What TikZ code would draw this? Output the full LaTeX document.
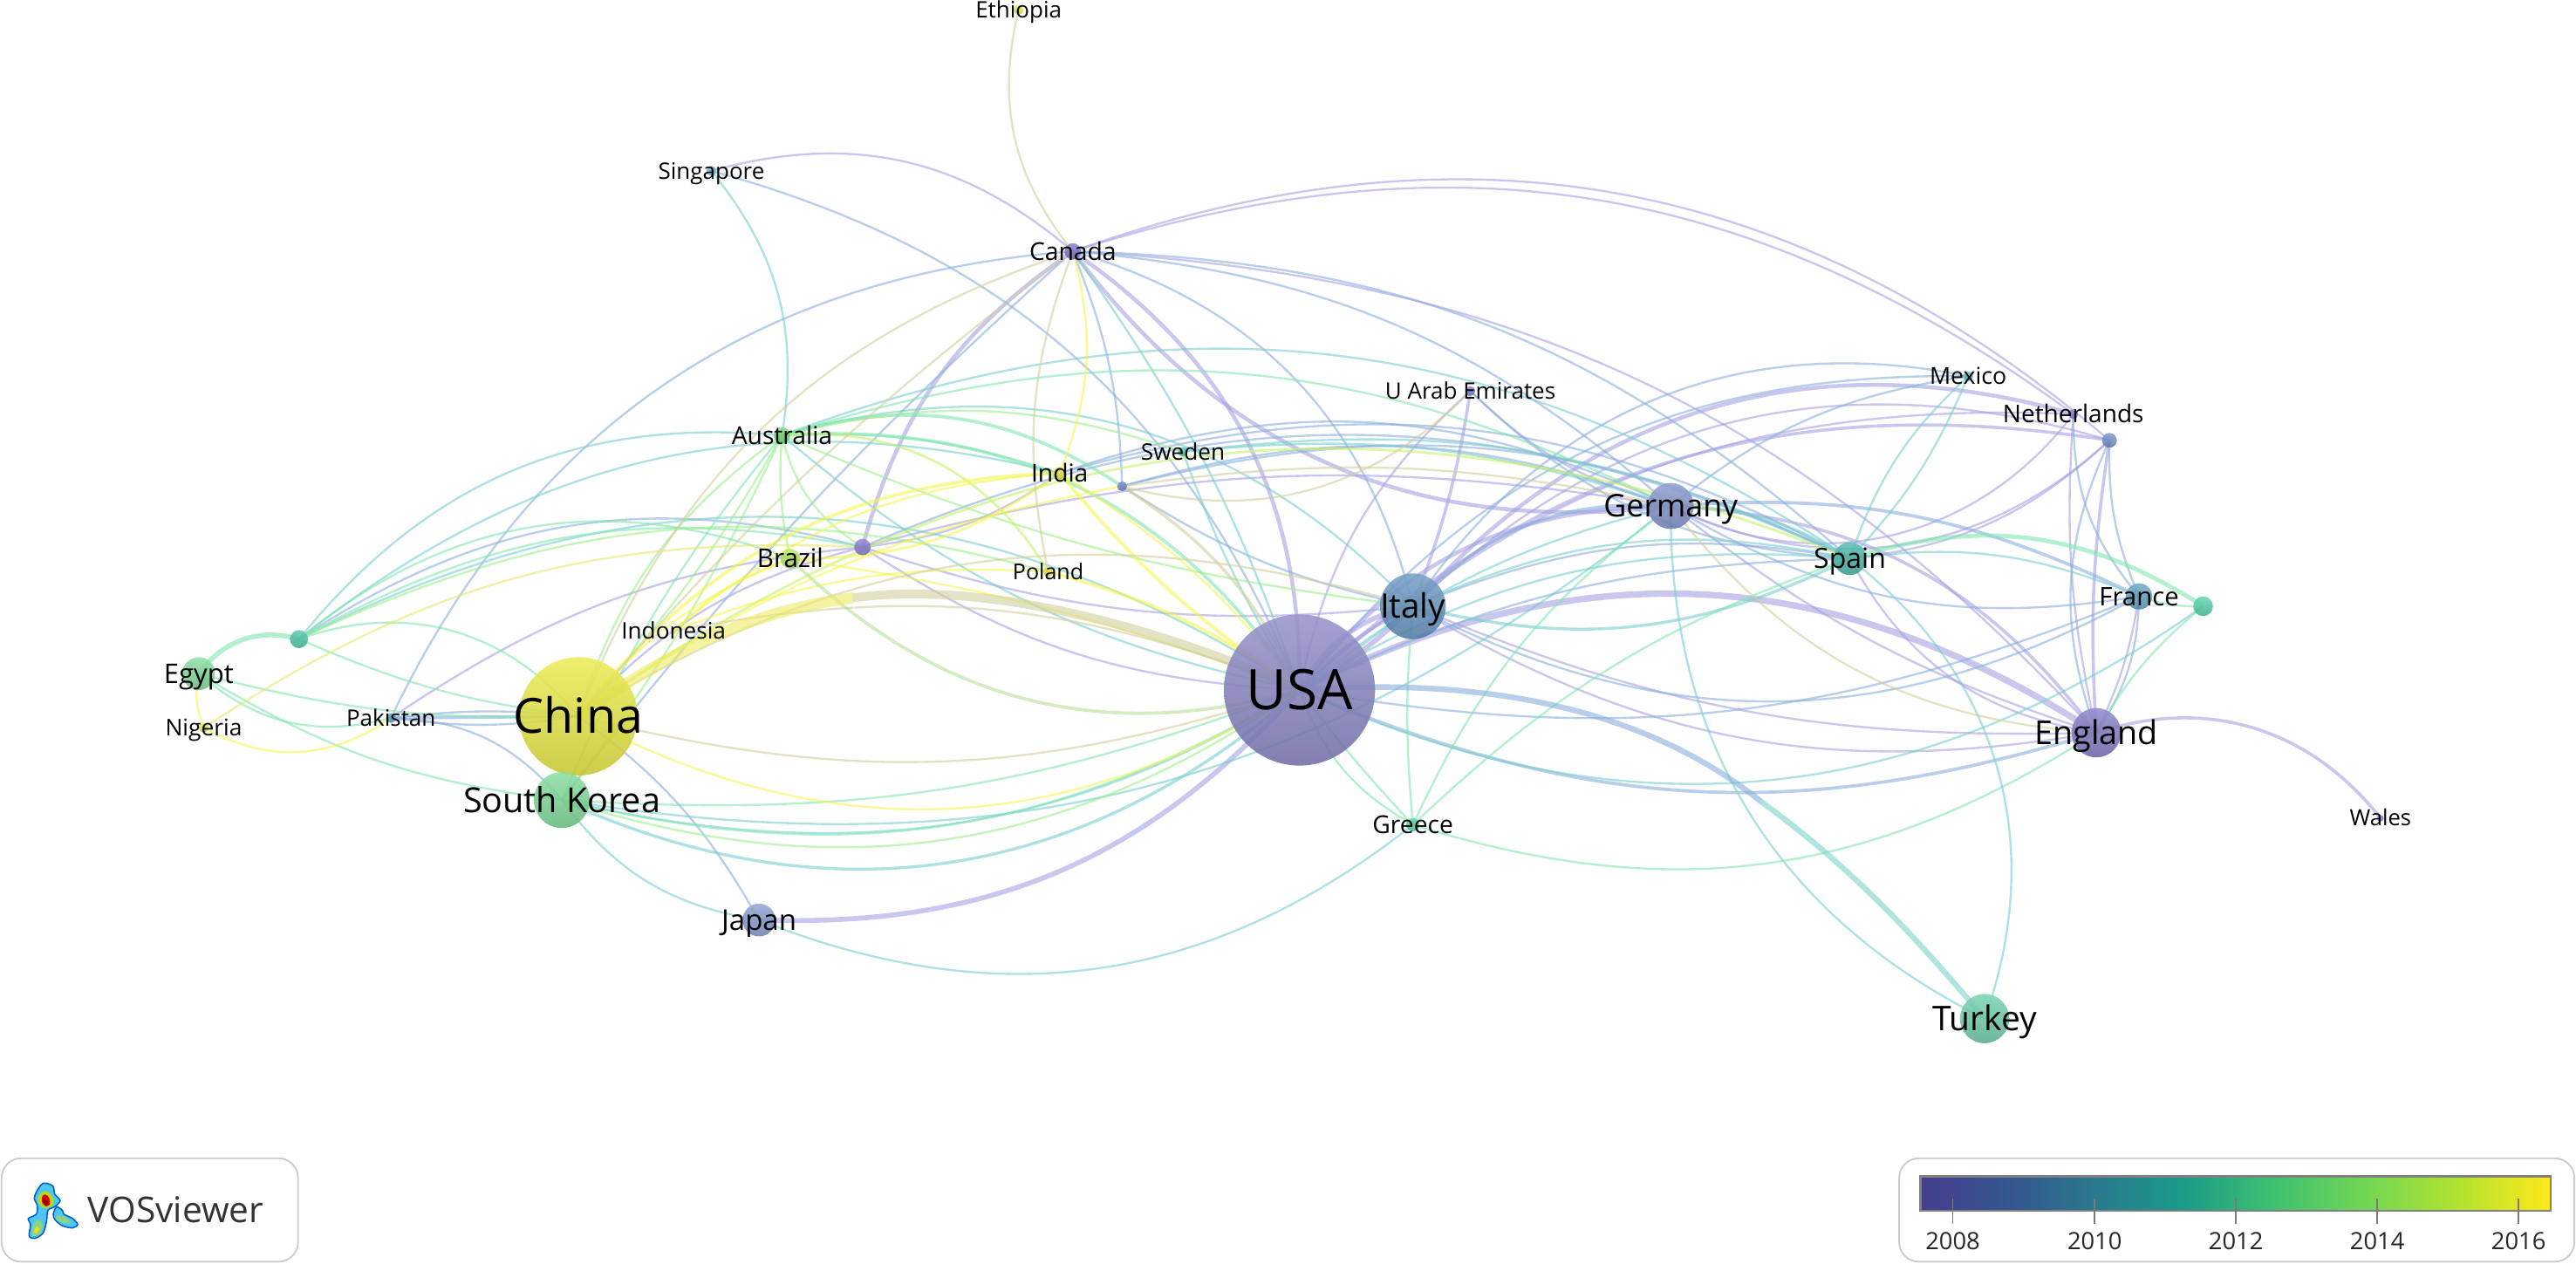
\documentclass[tikz,border=0pt]{standalone}
\usepackage{fontspec}
\setmainfont{Open Sans}
\usetikzlibrary{backgrounds}

\definecolor{lP}{HTML}{A5A1E2}
\definecolor{lB}{HTML}{8AAEDC}
\definecolor{lT}{HTML}{78CFCE}
\definecolor{lM}{HTML}{80E6B0}
\definecolor{lG}{HTML}{9CEE8A}
\definecolor{lY}{HTML}{F5F550}
\definecolor{lN}{HTML}{D2CF9E}
\definecolor{v0}{HTML}{463E8F}
\definecolor{v1}{HTML}{35568F}
\definecolor{v2}{HTML}{2A7A8E}
\definecolor{v3}{HTML}{1A9C88}
\definecolor{v4}{HTML}{3FC070}
\definecolor{v5}{HTML}{6FD555}
\definecolor{v6}{HTML}{B5E32E}
\definecolor{v7}{HTML}{FFE81A}
\pgfdeclarehorizontalshading{yearbar}{100bp}{color(0bp)=(v0); color(25bp)=(v0);
  color(32bp)=(v1); color(39bp)=(v2); color(46bp)=(v3); color(53bp)=(v4);
  color(60bp)=(v5); color(68bp)=(v6); color(75bp)=(v7); color(100bp)=(v7)}

\tikzset{%
  bubble/.style={
    circle,
    inner sep=0pt,
    opacity=.88
  },
  tag/.style={
    inner sep=0pt,
    text=black
  },
  link/.style={
    line width=1.25pt,
    opacity=.6
  },
  panel/.style={
    draw=black!20,
    line width=1pt,
    rounded corners=12pt
  },
  tick/.style={
    draw=black!52,
    line width=1pt
  },
}

\newcommand{\links}[2]{%
  \foreach \a/\b/\t in {#2}
    \draw[link,#1] (\a.center) to[bend left=\t] (\b.center);
}

\begin{document}
\begin{tikzpicture}[x=1pt,y=-1pt]
\useasboundingbox (0,0) rectangle (1568,769);

% countries with a label
\foreach \id/\x/\y/\r/\c/\s/\txt in {
  usa/791/420/46/8582C2/34/USA,
  china/352/436/36/E9E93C/29.5/China,
  korea/342/487/17/78D893/21/South Korea,
  italy/860/369/20/6291BF/20.5/Italy,
  germany/1017/308/14/8090CB/19/Germany,
  england/1276/446/15/7F78C4/20/England,
  turkey/1208/620/15/68CDA8/20.7/Turkey,
  spain/1126/340/10/44B5A8/17/Spain,
  japan/462/560/10/8298CE/17.5/Japan,
  egypt/121/410/10/7DDC98/16.5/Egypt,
  france/1302/363/8/5E9EBF/15.6/France,
  canada/653/153/5/7A73C8/15/Canada,
  australia/476/265/5/6FDB79/15/Australia,
  brazil/481/340/6/B4E85A/15.7/Brazil,
  india/645/288/4/E8E84A/15/India,
  sweden/720/275/3/50C8B0/13.9/Sweden,
  netherlands/1262/252/3/7A80CC/14.9/Netherlands,
  mexico/1198/229/3/4AC4C0/14.2/Mexico,
  emirates/895/238/3/7A7FD0/13.8/U Arab Emirates,
  poland/638/348/3/E8E040/13.3/Poland,
  indonesia/410/384/2/EEF070/13.9/Indonesia,
  pakistan/238/437/3/4CA0C0/13.8/Pakistan,
  nigeria/124/443/3/E8E840/14/Nigeria,
  ethiopia/620/6/3/E8E840/13.8/Ethiopia,
  singapore/433/104/3/6FB0D0/13.8/Singapore,
  greece/860/502/4/4FD8A0/15/Greece,
  wales/1449/498/2/8878D0/13.6/Wales}
{
  \definecolor{nc}{HTML}{\c}
  \node[bubble,minimum size=2*\r pt,top color=nc!85!white,bottom color=nc!85!black] (\id) at (\x,\y) {};
  \node[tag,font=\fontsize{\s}{\s}\selectfont,text height=.71*\s pt,text depth=0pt] (\id tag) at (\id) {\txt};
}

% countries without a label
\foreach \id/\x/\y/\r/\c in {
  nEgypt/182/389/5.5/48C4A8,
  nBrazil/525/333/5/8578CC,
  nSweden/683/296/3/6F80C8,
  nDutch/1284/268/4.5/6F8CC8,
  nFrance/1341/369/6/50CFA8}
{
  \definecolor{nc}{HTML}{\c}
  \node[bubble,minimum size=2*\r pt,top color=nc!85!white,bottom color=nc!85!black] (\id) at (\x,\y) {};
}

\begin{scope}[on background layer]
% purple
\links{draw=lP}{
  canada/netherlands/27, canada/nDutch/30, singapore/canada/28, canada/england/22,
  nBrazil/usa/-15, nBrazil/italy/-12, nBrazil/germany/12, nBrazil/india/-14,
  pakistan/nBrazil/14, china/nBrazil/16, germany/england/-10, italy/england/-20,
  italy/england/-12, usa/netherlands/22, emirates/usa/-18, emirates/germany/-14,
  netherlands/england/-8, france/england/8, germany/nDutch/-34, spain/nDutch/-18,
  germany/netherlands/-40, italy/nDutch/30, spain/england/-26}
\links{draw=lP,line width=2.4pt}{canada/usa/28, nBrazil/canada/20, usa/germany/26, italy/netherlands/32, canada/germany/-30}
\links{draw=lP,line width=1.9pt}{germany/england/25, usa/italy/10, usa/nDutch/26, england/wales/35, nDutch/england/-6, emirates/italy/6}
\links{draw=lP,line width=3.9pt}{usa/england/30}
\links{draw=lP,line width=3pt}{japan/usa/-25, usa/italy/-8, usa/italy/24}
% blue
\links{draw=lB}{
  singapore/usa/26, canada/italy/30, canada/spain/20, canada/germany/18, canada/nSweden/10,
  pakistan/canada/30, pakistan/china/6, pakistan/korea/24, china/japan/12, usa/france/-16,
  italy/france/-28, germany/mexico/15, italy/mexico/34, usa/mexico/26, emirates/spain/-20,
  nBrazil/spain/24, india/germany/22, india/spain/22, nSweden/germany/18, nSweden/italy/-10,
  nEgypt/nBrazil/24, nSweden/spain/20, france/nDutch/12, netherlands/france/-20,
  germany/france/-20, england/nDutch/22, england/france/-16, korea/canada/5,
  pakistan/china/-8, usa/spain/12, italy/spain/16}
\links{draw=lB,line width=2pt}{italy/germany/25, germany/france/15, usa/england/-20, pakistan/china/0}
% teal
\links{draw=lT}{
  nEgypt/australia/28, nEgypt/india/26, nEgypt/usa/30, singapore/australia/24, australia/spain/27,
  australia/italy/31, spain/mexico/14, spain/mexico/-10, spain/turkey/36, spain/france/15,
  germany/turkey/-32, korea/italy/-26, korea/germany/-24, japan/greece/-30, korea/japan/-22,
  sweden/spain/16, sweden/germany/12, sweden/usa/-6, canada/usa/8, usa/nFrance/-30, spain/usa/-18,
  germany/usa/-12, italy/spain/18, australia/usa/-14}
\links{draw=lT,line width=1.8pt}{italy/spain/-20, germany/spain/15, korea/usa/-33}
% mint
\links{draw=lM}{
  nEgypt/china/35, nEgypt/china/-8, nEgypt/brazil/30, nEgypt/nBrazil/20, egypt/china/-8,
  egypt/korea/-12, egypt/pakistan/-28, australia/germany/22, korea/usa/-22,
  korea/usa/-12, greece/england/-25, greece/spain/12, greece/germany/14, italy/greece/-5,
  usa/greece/-20, usa/greece/-3, korea/australia/8, nFrance/france/10, nFrance/england/-10,
  australia/india/10}
\links{draw=lM,line width=3pt}{egypt/nEgypt/35}
\links{draw=lM,line width=2.6pt}{spain/nFrance/25}
\links{draw=lM,line width=2pt}{australia/usa/30, australia/nSweden/25}
% green
\links{draw=lG}{
  china/australia/18, china/australia/-6, korea/australia/-6, australia/brazil/-8,
  australia/nBrazil/-22, nEgypt/poland/20, australia/sweden/16, australia/italy/-8,
  korea/usa/-26}
\links{draw=lG!50!lY,line width=1.5pt}{china/spain/29, australia/poland/32}
% yellow
\links{draw=lY}{
  china/brazil/14, china/nSweden/12, china/usa/-30, indonesia/brazil/12, indonesia/india/18,
  indonesia/poland/12, nigeria/pakistan/-32, egypt/nigeria/-16, brazil/usa/6, india/usa/10,
  canada/india/18}
\links{draw=lY,line width=2pt}{china/india/25, poland/usa/10, india/usa/-8}
\links{draw=lY,line width=1.5pt}{brazil/india/-18}
% tan
\links{draw=lN}{
  nSweden/germany/10, nSweden/emirates/-30, ethiopia/canada/-26, china/canada/25, china/canada/6,
  china/italy/24, canada/poland/-16, indonesia/usa/16, germany/england/-24, china/usa/-16}
\links{draw=lN!40!lY}{nigeria/nBrazil/18}
\links{draw=lN,line width=1.8pt}{nSweden/usa/16}
\links{draw=lN!50!lG,line width=2pt}{brazil/usa/-30}
% the two heavy bands change colour on the way
\coordinate (chinaMid) at (519,364);
\draw[link,draw=lY!75!lN,line width=6.8pt] (china.center) .. controls (395,405) and (450,372) .. (chinaMid);
\draw[link,draw=lN,line width=5.4pt] (chinaMid) .. controls (590,354) and (690,375) .. (usa.center);
\coordinate (turkeyMid) at (1072,488);
\draw[link,draw=lB,line width=3.4pt] (usa.center) .. controls (900,412) and (1000,430) .. (turkeyMid);
\draw[link,draw=lT!80!lM,line width=3.4pt] (turkeyMid) .. controls (1130,530) and (1170,575) .. (turkey.center);
\end{scope}

% logo
\node[panel,minimum width=180.5pt,minimum height=63pt] (logoBox) at (91.2,736.5) {};
\node[tag,font=\fontsize{21.6}{21.6}\selectfont,text=black!80] (logoTag) at (107,736.5) {VOSviewer};
\begin{scope}[shift={(0,690.4)},x=.177pt,y=-.177pt]
\draw[draw=blue!55!cyan!80!black,fill=cyan!70!white,line width=.8pt] plot[smooth cycle] coordinates {(150,168) (182,178) (188,205) (207,228) (190,248) (165,262) (160,300) (148,340) (120,358) (100,350) (105,310) (97,290) (125,275) (128,245) (118,220) (130,190)};
\draw[draw=blue!55!cyan!80!black,fill=cyan!70!white,line width=.8pt] plot[smooth cycle] coordinates {(195,250) (215,262) (220,275) (250,290) (267,310) (250,322) (215,315) (190,295) (183,275)};
\fill[yellow!70!green] plot[smooth cycle] coordinates {(155,195) (178,210) (185,240) (155,255) (130,235) (135,210)};
\fill[yellow!55!cyan] plot[smooth cycle] coordinates {(130,292) (148,315) (135,345) (112,348) (112,320)};
\fill[yellow!80!orange] plot[smooth cycle] coordinates {(125,318) (135,325) (125,340) (117,338)};
\fill[yellow!55!cyan] plot[smooth cycle] coordinates {(195,280) (225,285) (245,305) (220,305) (195,295)};
\fill[red!90!black] plot[smooth cycle] coordinates {(155,207) (168,217) (172,240) (158,248) (145,235) (145,215)};
\fill[red!55!black] plot[smooth cycle] coordinates {(153,222) (163,228) (165,240) (156,243) (150,235)};
\end{scope}

% colour bar
\node[panel,minimum width=411pt,minimum height=63pt] (barBox) at (1361.5,736.5) {};
\node[draw=black!50,line width=1.4pt,shading=yearbar,minimum width=383.5pt,minimum height=21pt,inner sep=0pt] (yearBar) at (1360.8,726.5) {};
\foreach \x/\yr in {1188.6/2008,1275/2010,1361/2012,1447/2014,1533/2016}
{
  \draw[tick] (\x,729.7) -- (\x,745);
  \node[tag,font=\fontsize{14.5}{14.5}\selectfont,text=black!85] (yr\yr) at (\x,755.5) {\yr};
}
\end{tikzpicture}
\end{document}
